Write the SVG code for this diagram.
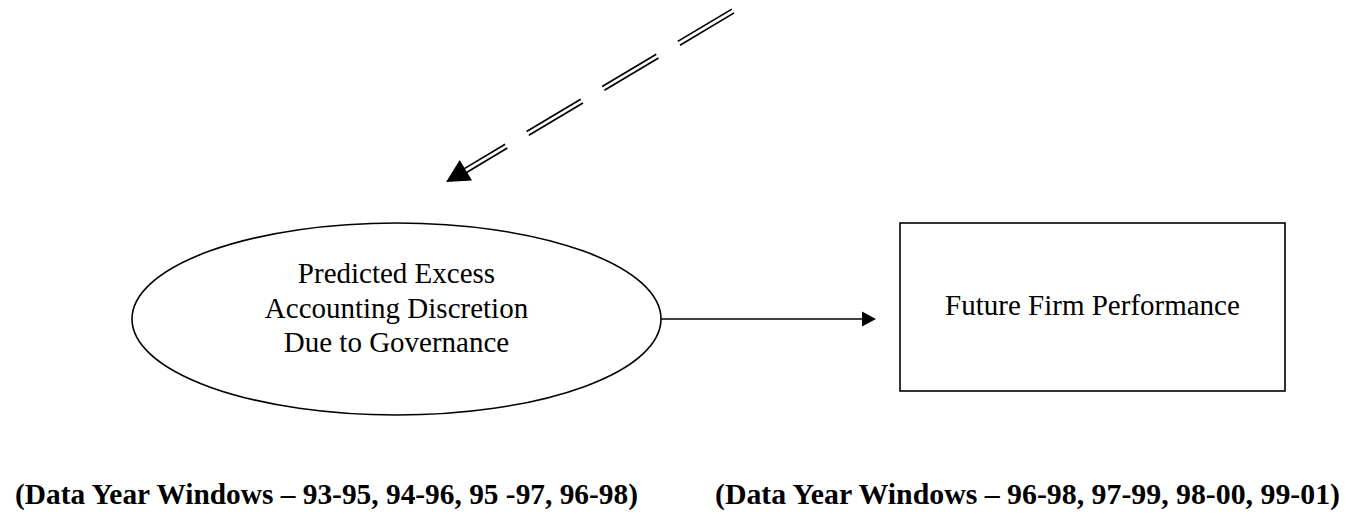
<svg xmlns="http://www.w3.org/2000/svg" width="1352" height="515" viewBox="0 0 1352 515">
<style>
.shape{fill:#fff;stroke:#000;stroke-width:1.6}
.lbl{font-family:"Liberation Serif","Times New Roman",serif;font-size:29px;fill:#000;text-anchor:middle}
.cap{font-family:"Liberation Serif","Times New Roman",serif;font-size:29px;font-weight:bold;fill:#000}
.conn{stroke:#000;stroke-width:1.6;fill:none}
.dbl{stroke:#000;stroke-width:1.7;fill:none;stroke-dasharray:63 25}
</style>
<rect width="1352" height="515" fill="#fff"/>
<g id="connectors">
  <line class="conn" x1="661" y1="319" x2="863" y2="319"/>
  <polygon points="862,311.5 876,319 862,326.5" fill="#000"/>
  <g transform="translate(733,11) rotate(149.2)">
    <line class="dbl" x1="0" y1="-2.2" x2="312" y2="-2.2"/>
    <line class="dbl" x1="0" y1="2.2" x2="312" y2="2.2"/>
    <polygon points="311,-12 334,0 311,12" fill="#000"/>
  </g>
</g>
<g id="node-discretion">
  <ellipse class="shape" cx="396.5" cy="319" rx="264.5" ry="96"/>
  <text class="lbl" x="396.5" y="283">Predicted Excess</text>
  <text class="lbl" x="396.5" y="318">Accounting Discretion</text>
  <text class="lbl" x="396.5" y="352">Due to Governance</text>
</g>
<g id="node-performance">
  <rect class="shape" x="900" y="223" width="385" height="168"/>
  <text class="lbl" x="1092.5" y="315">Future Firm Performance</text>
</g>
<g id="labels">
  <text class="cap" x="15" y="504" textLength="623" lengthAdjust="spacingAndGlyphs">(Data Year Windows – 93-95, 94-96, 95 -97, 96-98)</text>
  <text class="cap" x="715" y="504" textLength="625" lengthAdjust="spacingAndGlyphs">(Data Year Windows – 96-98, 97-99, 98-00, 99-01)</text>
</g>
</svg>
